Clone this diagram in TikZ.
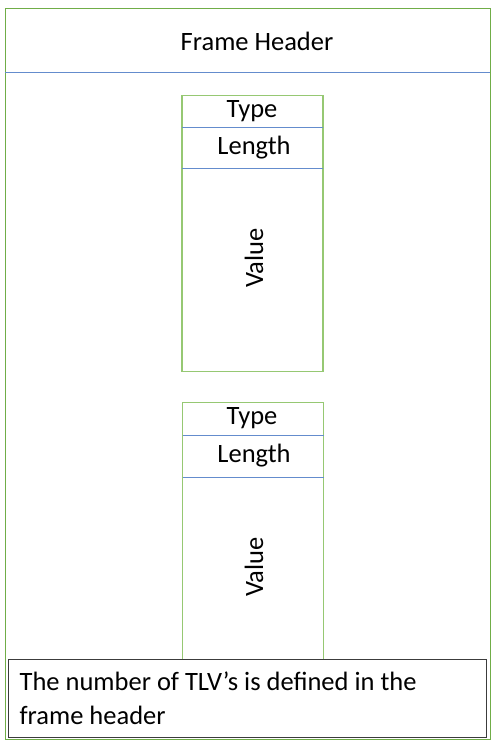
\documentclass[tikz,border=0pt]{standalone}
\usepackage{fontspec}
\setmainfont{Carlito}
\definecolor{framegreen}{RGB}{112,173,71}
\definecolor{tlvgreen}{RGB}{150,200,115}
\definecolor{sepblue}{RGB}{100,140,205}
\definecolor{notegray}{RGB}{60,60,60}
\tikzset{
  txt/.style={font=\fontsize{26.5}{34}\selectfont, inner sep=0pt},
  tlvbox/.style={draw=tlvgreen, line width=1.1pt, minimum width=141pt, inner sep=0pt, anchor=north},
  sepline/.style={draw=sepblue, line width=0.9pt},
}
\begin{document}
\begin{tikzpicture}[x=1pt,y=-1pt]
    \useasboundingbox (0,0) rectangle (494,743);

    % Draw the outer frame
    \node[draw=framegreen, line width=1.4pt, minimum width=485pt, minimum height=731pt,
          inner sep=0pt, anchor=north west] (frame) at (5,8) {};

    % Header
    \coordinate (hl) at (5,72);
    \coordinate (hr) at (490,72);
    \draw[sepline] (hl) -- (hr);
    \node[txt] (header) at (257,41) {Frame Header};

    % First TLV
    \node[tlvbox, minimum height=276pt] (tlv1) at (252.5,95) {};
    \coordinate (a1) at (182,127);
    \coordinate (b1) at (323,127);
    \coordinate (c1) at (182,168);
    \coordinate (d1) at (323,168);
    \draw[sepline] (a1) -- (b1);
    \draw[sepline] (c1) -- (d1);
    \node[txt] (type1) at (252,111) {Type};
    \node[txt] (length1) at (254,147.5) {Length};
    \node[txt, rotate=90] (value1) at (254,258) {Value};

    % Second TLV
    \node[tlvbox, minimum height=290pt] (tlv2) at (253,402) {};
    \coordinate (a2) at (182.5,435);
    \coordinate (b2) at (323.5,435);
    \coordinate (c2) at (182.5,477);
    \coordinate (d2) at (323.5,477);
    \draw[sepline] (a2) -- (b2);
    \draw[sepline] (c2) -- (d2);
    \node[txt] (type2) at (252,418.5) {Type};
    \node[txt] (length2) at (254,456) {Length};
    \node[txt, rotate=90] (value2) at (254,567) {Value};

    % Note at the bottom
    \node[txt, draw=notegray, fill=white, line width=1.3pt, anchor=north west,
          minimum width=478pt, minimum height=78pt, text width=456pt,
          inner xsep=11pt, align=flush left] (note) at (8,659)
          {The number of TLV’s is defined in the\\frame header};
\end{tikzpicture}
\end{document}
